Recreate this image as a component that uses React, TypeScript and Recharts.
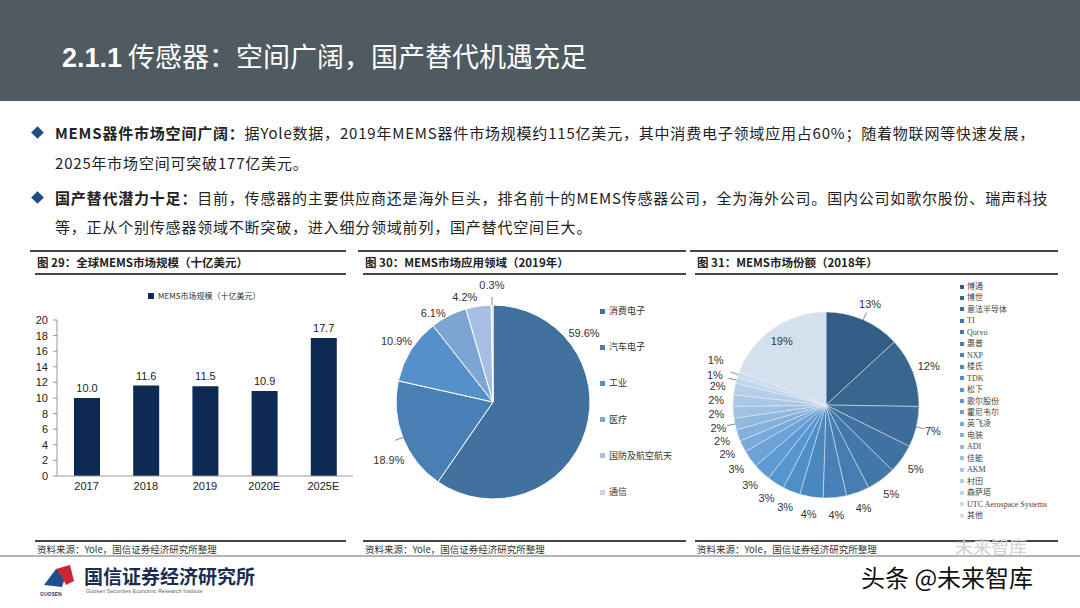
import React from "react";
import {
  BarChart,
  Bar,
  XAxis,
  YAxis,
  LabelList,
  PieChart,
  Pie,
  Cell,
} from "recharts";

// 图29 全球MEMS市场规模（十亿美元）
const years = ["2017", "2018", "2019", "2020E", "2025E"];
const marketSize = [10.0, 11.6, 11.5, 10.9, 17.7];
const yTicks = [0, 2, 4, 6, 8, 10, 12, 14, 16, 18, 20];

// 图30 MEMS市场应用领域（2019年）
const appFields = ["消费电子", "汽车电子", "工业", "医疗", "国防及航空航天", "通信"];
const appShares = [59.6, 18.9, 10.9, 6.1, 4.2, 0.3];

// 图31 MEMS市场份额（2018年）
const vendors = [
  "博通", "博世", "意法半导体", "TI", "Qorvo", "惠普", "NXP", "楼氏", "TDK", "松下",
  "歌尔股份", "霍尼韦尔", "英飞凌", "电装", "ADI", "佳能", "AKM", "村田", "森萨塔",
  "UTC Aerospace Systems", "其他",
];
const vendorShares = [13, 12, 7, 5, 5, 4, 4, 4, 3, 3, 3, 3, 2, 2, 2, 2, 2, 2, 1, 1, 19];

const FONT = '"Liberation Sans", Arial, "Noto Sans CJK SC", sans-serif';
const CJK = '"Noto Sans CJK SC", "Liberation Sans", sans-serif';

const APP_COLORS = ["#41719f", "#4a7fb6", "#5690cb", "#7da5d4", "#a5bee2", "#c8d6ec"];
const VENDOR_COLORS = [
  "#335c86", "#39668f", "#3c6d9a", "#3f72a2", "#4277aa", "#457cb1", "#4881b8",
  "#4b87bf", "#4f8ec7", "#5595d0", "#5e9bd3", "#6ca2d5", "#79a9d8", "#85b0db",
  "#92b8de", "#9ec0e1", "#aac7e4", "#b6cfe8", "#c1d6eb", "#cadcee", "#d5e0ef",
];

const RAD = Math.PI / 180;

const barData = years.map((y, i) => ({ year: y, value: marketSize[i] }));
const appData = appFields.map((n, i) => ({ name: n, value: appShares[i] }));
const vendorData = vendors.map((n, i) => ({ name: n, value: vendorShares[i] }));

// label tweaks that Excel "best fit" did in the source
type LabelTweak = { angle?: number; dr?: number };
const APP_TWEAKS: Record<number, LabelTweak> = {
  0: { angle: 37 },
  1: { angle: 209, dr: 5 },
  3: { angle: 124, dr: -7 },
  4: { angle: 105, dr: -5 },
  5: { dr: 3 },
};
const APP_LEADERS = [1, 5];
const VENDOR_TWEAKS: Record<number, LabelTweak> = {
  18: { angle: 165, dr: 5 },
  19: { angle: 158, dr: 9 },
};
const VENDOR_LEADERS = [0, 2, 14, 18, 19];

const polar = (cx: number, cy: number, r: number, ang: number) => ({
  x: cx + r * Math.cos(-ang * RAD),
  y: cy + r * Math.sin(-ang * RAD),
});

const makeLabel =
  (tweaks: Record<number, LabelTweak>, leaders: number[], fmt: (v: number) => string, insideIdx = -1) =>
  (p: any) => {
    const { cx, cy, midAngle, outerRadius, index, value } = p;
    const t = tweaks[index] || {};
    const ang = t.angle ?? midAngle;
    const r = index === insideIdx ? outerRadius * 0.84 : outerRadius + 17 + (t.dr || 0);
    const pos = polar(cx, cy, r, ang);
    const a = polar(cx, cy, outerRadius, midAngle);
    const b = polar(cx, cy, outerRadius + 8, midAngle);
    return (
      <g key={`lb-${index}`}>
        {leaders.includes(index) && (
          <line x1={a.x} y1={a.y} x2={b.x} y2={b.y} stroke="#888" strokeWidth={1} />
        )}
        <text
          x={pos.x}
          y={pos.y}
          textAnchor="middle"
          dominantBaseline="central"
          fontSize={11}
          fill="#333"
          fontFamily={FONT}
        >
          {fmt(value)}
        </text>
      </g>
    );
  };

const renderAppLabel = makeLabel(APP_TWEAKS, APP_LEADERS, (v) => `${v.toFixed(1)}%`);
const renderVendorLabel = makeLabel(
  VENDOR_TWEAKS,
  VENDOR_LEADERS,
  (v) => `${v}%`,
  vendorShares.length - 1
);

const abs = (left: number, top: number, extra: React.CSSProperties = {}): React.CSSProperties => ({
  position: "absolute",
  left,
  top,
  ...extra,
});

const Bullet = ({ top }: { top: number }) => (
  <div
    style={abs(33, top, {
      width: 9,
      height: 9,
      background: "#1f4f82",
      transform: "rotate(45deg)",
    })}
  />
);

const PanelFrame = ({ x, w, title }: { x: number; w: number; title: string }) => (
  <>
    <div style={abs(x, 250, { width: w, height: 2, background: "#444" })} />
    <div
      style={abs(x + 7, 254, {
        fontFamily: CJK,
        fontWeight: 700,
        fontSize: 11.5,
        color: "#222",
        whiteSpace: "nowrap",
        lineHeight: "16px",
      })}
    >
      {title}
    </div>
    <div style={abs(x + 5, 273, { width: w - 5, height: 1.5, background: "#444" })} />
    <div style={abs(x + 5, 540, { width: w - 5, height: 1.5, background: "#444" })} />
    <div
      style={abs(x + 7, 543, {
        fontFamily: CJK,
        fontSize: 9.5,
        color: "#333",
        whiteSpace: "nowrap",
        lineHeight: "13px",
      })}
    >
      资料来源：Yole，国信证券经济研究所整理
    </div>
  </>
);

export default function App() {
  const textLine: React.CSSProperties = {
    fontFamily: CJK,
    fontSize: 15,
    letterSpacing: 0.8,
    color: "#222",
    whiteSpace: "nowrap",
    lineHeight: "20px",
  };
  return (
    <div
      style={{
        position: "absolute",
        left: 0,
        top: 0,
        width: 1080,
        height: 608,
        background: "#fff",
        overflow: "hidden",
        fontFamily: FONT,
      }}
    >
      {/* header */}
      <div style={abs(0, 0, { width: 1080, height: 101, background: "#4f5a61" })} />
      <div
        style={abs(62, 38, {
          fontFamily: CJK,
          fontSize: 27,
          color: "#fff",
          whiteSpace: "nowrap",
          lineHeight: "36px",
        })}
      >
        <b style={{ fontFamily: FONT }}>2.1.1</b> 传感器：空间广阔，国产替代机遇充足
      </div>

      {/* bullets */}
      <Bullet top={128} />
      <div style={abs(55, 123, textLine)}>
        <b>MEMS器件市场空间广阔：</b>据Yole数据，2019年MEMS器件市场规模约115亿美元，其中消费电子领域应用占60%；随着物联网等快速发展，
      </div>
      <div style={abs(55, 153, textLine)}>2025年市场空间可突破177亿美元。</div>
      <Bullet top={193} />
      <div style={abs(55, 188, textLine)}>
        <b>国产替代潜力十足：</b>目前，传感器的主要供应商还是海外巨头，排名前十的MEMS传感器公司，全为海外公司。国内公司如歌尔股份、瑞声科技
      </div>
      <div style={abs(55, 217, textLine)}>等，正从个别传感器领域不断突破，进入细分领域前列，国产替代空间巨大。</div>

      {/* panels */}
      <PanelFrame x={30} w={316} title="图 29：全球MEMS市场规模（十亿美元）" />
      <PanelFrame x={358} w={328} title="图 30：MEMS市场应用领域（2019年）" />
      <PanelFrame x={690} w={368} title="图 31：MEMS市场份额（2018年）" />

      {/* chart 29 */}
      <div style={abs(148, 290, { display: "flex", alignItems: "center", fontFamily: CJK, fontSize: 8, color: "#333" })}>
        <span style={{ width: 6, height: 6, background: "#0d2a54", marginRight: 4, display: "inline-block" }} />
        MEMS市场规模（十亿美元）
      </div>
      <div style={abs(20, 280)}>
        <BarChart
          width={338}
          height={220}
          data={barData}
          margin={{ top: 40, right: 5, left: 7, bottom: 0 }}
          barSize={26}
        >
          <XAxis
            dataKey="year"
            height={24}
            tickLine={false}
            tickMargin={0}
            axisLine={{ stroke: "#999" }}
            tick={{ fontSize: 11, fill: "#222", fontFamily: FONT }}
            interval={0}
          />
          <YAxis
            domain={[0, 20]}
            ticks={yTicks}
            width={30}
            tickSize={4}
            tickMargin={5}
            interval={0}
            axisLine={{ stroke: "#999" }}
            tickLine={{ stroke: "#999" }}
            tick={{ fontSize: 11, fill: "#222", fontFamily: FONT }}
          />
          <Bar dataKey="value" fill="#0d2a54" isAnimationActive={false}>
            <LabelList
              dataKey="value"
              position="top"
              offset={6}
              formatter={(v: any) => Number(v).toFixed(1)}
              style={{ fontSize: 11, fill: "#222", fontFamily: FONT }}
            />
          </Bar>
        </BarChart>
      </div>

      {/* chart 30 */}
      <div style={abs(360, 280)}>
        <PieChart width={240} height={240} margin={{ top: 0, right: 0, bottom: 0, left: 0 }}>
          <Pie
            data={appData}
            dataKey="value"
            nameKey="name"
            cx={133}
            cy={122}
            outerRadius={97}
            startAngle={90}
            endAngle={-270}
            stroke="#fff"
            strokeWidth={1}
            label={renderAppLabel}
            labelLine={false}
            isAnimationActive={false}
          >
            {appData.map((d, i) => (
              <Cell key={d.name} fill={APP_COLORS[i]} />
            ))}
          </Pie>
        </PieChart>
      </div>
      {appFields.map((n, i) => (
        <div
          key={n}
          style={abs(600, 305 + i * 36.2, {
            display: "flex",
            alignItems: "center",
            fontFamily: CJK,
            fontSize: 9,
            color: "#333",
            whiteSpace: "nowrap",
            lineHeight: "12px",
          })}
        >
          <span style={{ width: 5, height: 5, background: APP_COLORS[i], marginRight: 4, display: "inline-block" }} />
          {n}
        </div>
      ))}

      {/* chart 31 */}
      <div style={abs(695, 280)}>
        <PieChart width={250} height={240} margin={{ top: 0, right: 0, bottom: 0, left: 0 }}>
          <Pie
            data={vendorData}
            dataKey="value"
            nameKey="name"
            cx={131}
            cy={125}
            outerRadius={93}
            startAngle={90}
            endAngle={-270}
            stroke="#e8eef6"
            strokeWidth={0.5}
            label={renderVendorLabel}
            labelLine={false}
            isAnimationActive={false}
          >
            {vendorData.map((d, i) => (
              <Cell key={d.name} fill={VENDOR_COLORS[i]} />
            ))}
          </Pie>
        </PieChart>
      </div>
      {vendors.map((n, i) => (
        <div
          key={n}
          style={abs(960, 281 + i * 11.45, {
            display: "flex",
            alignItems: "center",
            fontFamily: '"Liberation Serif", "Noto Sans CJK SC", serif',
            fontSize: 8,
            color: "#444",
            whiteSpace: "nowrap",
            lineHeight: "11px",
          })}
        >
          <span style={{ width: 4, height: 4, background: VENDOR_COLORS[i], marginRight: 3, display: "inline-block" }} />
          {n}
        </div>
      ))}

      {/* footer */}
      <div style={abs(0, 555, { width: 1080, height: 2, background: "#b5b5b5" })} />
      <svg style={abs(40, 563)} width={38} height={36}>
        <polygon points="4,22 16,6 26,12 22,24" fill="#1f4f8a" />
        <polygon points="16,6 30,2 34,18 26,22 22,14" fill="#c8282e" />
        <text x={0} y={33} fontSize={5} fontWeight={700} fill="#1f3f6f" fontFamily={FONT}>
          GUOSEN
        </text>
      </svg>
      <div
        style={abs(84, 564, {
          fontFamily: CJK,
          fontWeight: 700,
          fontSize: 19,
          color: "#1b2d55",
          whiteSpace: "nowrap",
          lineHeight: "24px",
        })}
      >
        国信证券经济研究所
      </div>
      <div style={abs(86, 588, { fontFamily: FONT, fontSize: 5.5, color: "#666", whiteSpace: "nowrap" })}>
        Guosen Securities Economic Research Institute
      </div>
      <div
        style={abs(955, 536, {
          fontFamily: CJK,
          fontSize: 18,
          color: "#d0d0d0",
          whiteSpace: "nowrap",
          lineHeight: "20px",
        })}
      >
        未来智库
      </div>
      <div
        style={abs(861, 563, {
          fontFamily: CJK,
          fontSize: 24,
          color: "#111",
          whiteSpace: "nowrap",
          lineHeight: "28px",
        })}
      >
        头条 @未来智库
      </div>
    </div>
  );
}
